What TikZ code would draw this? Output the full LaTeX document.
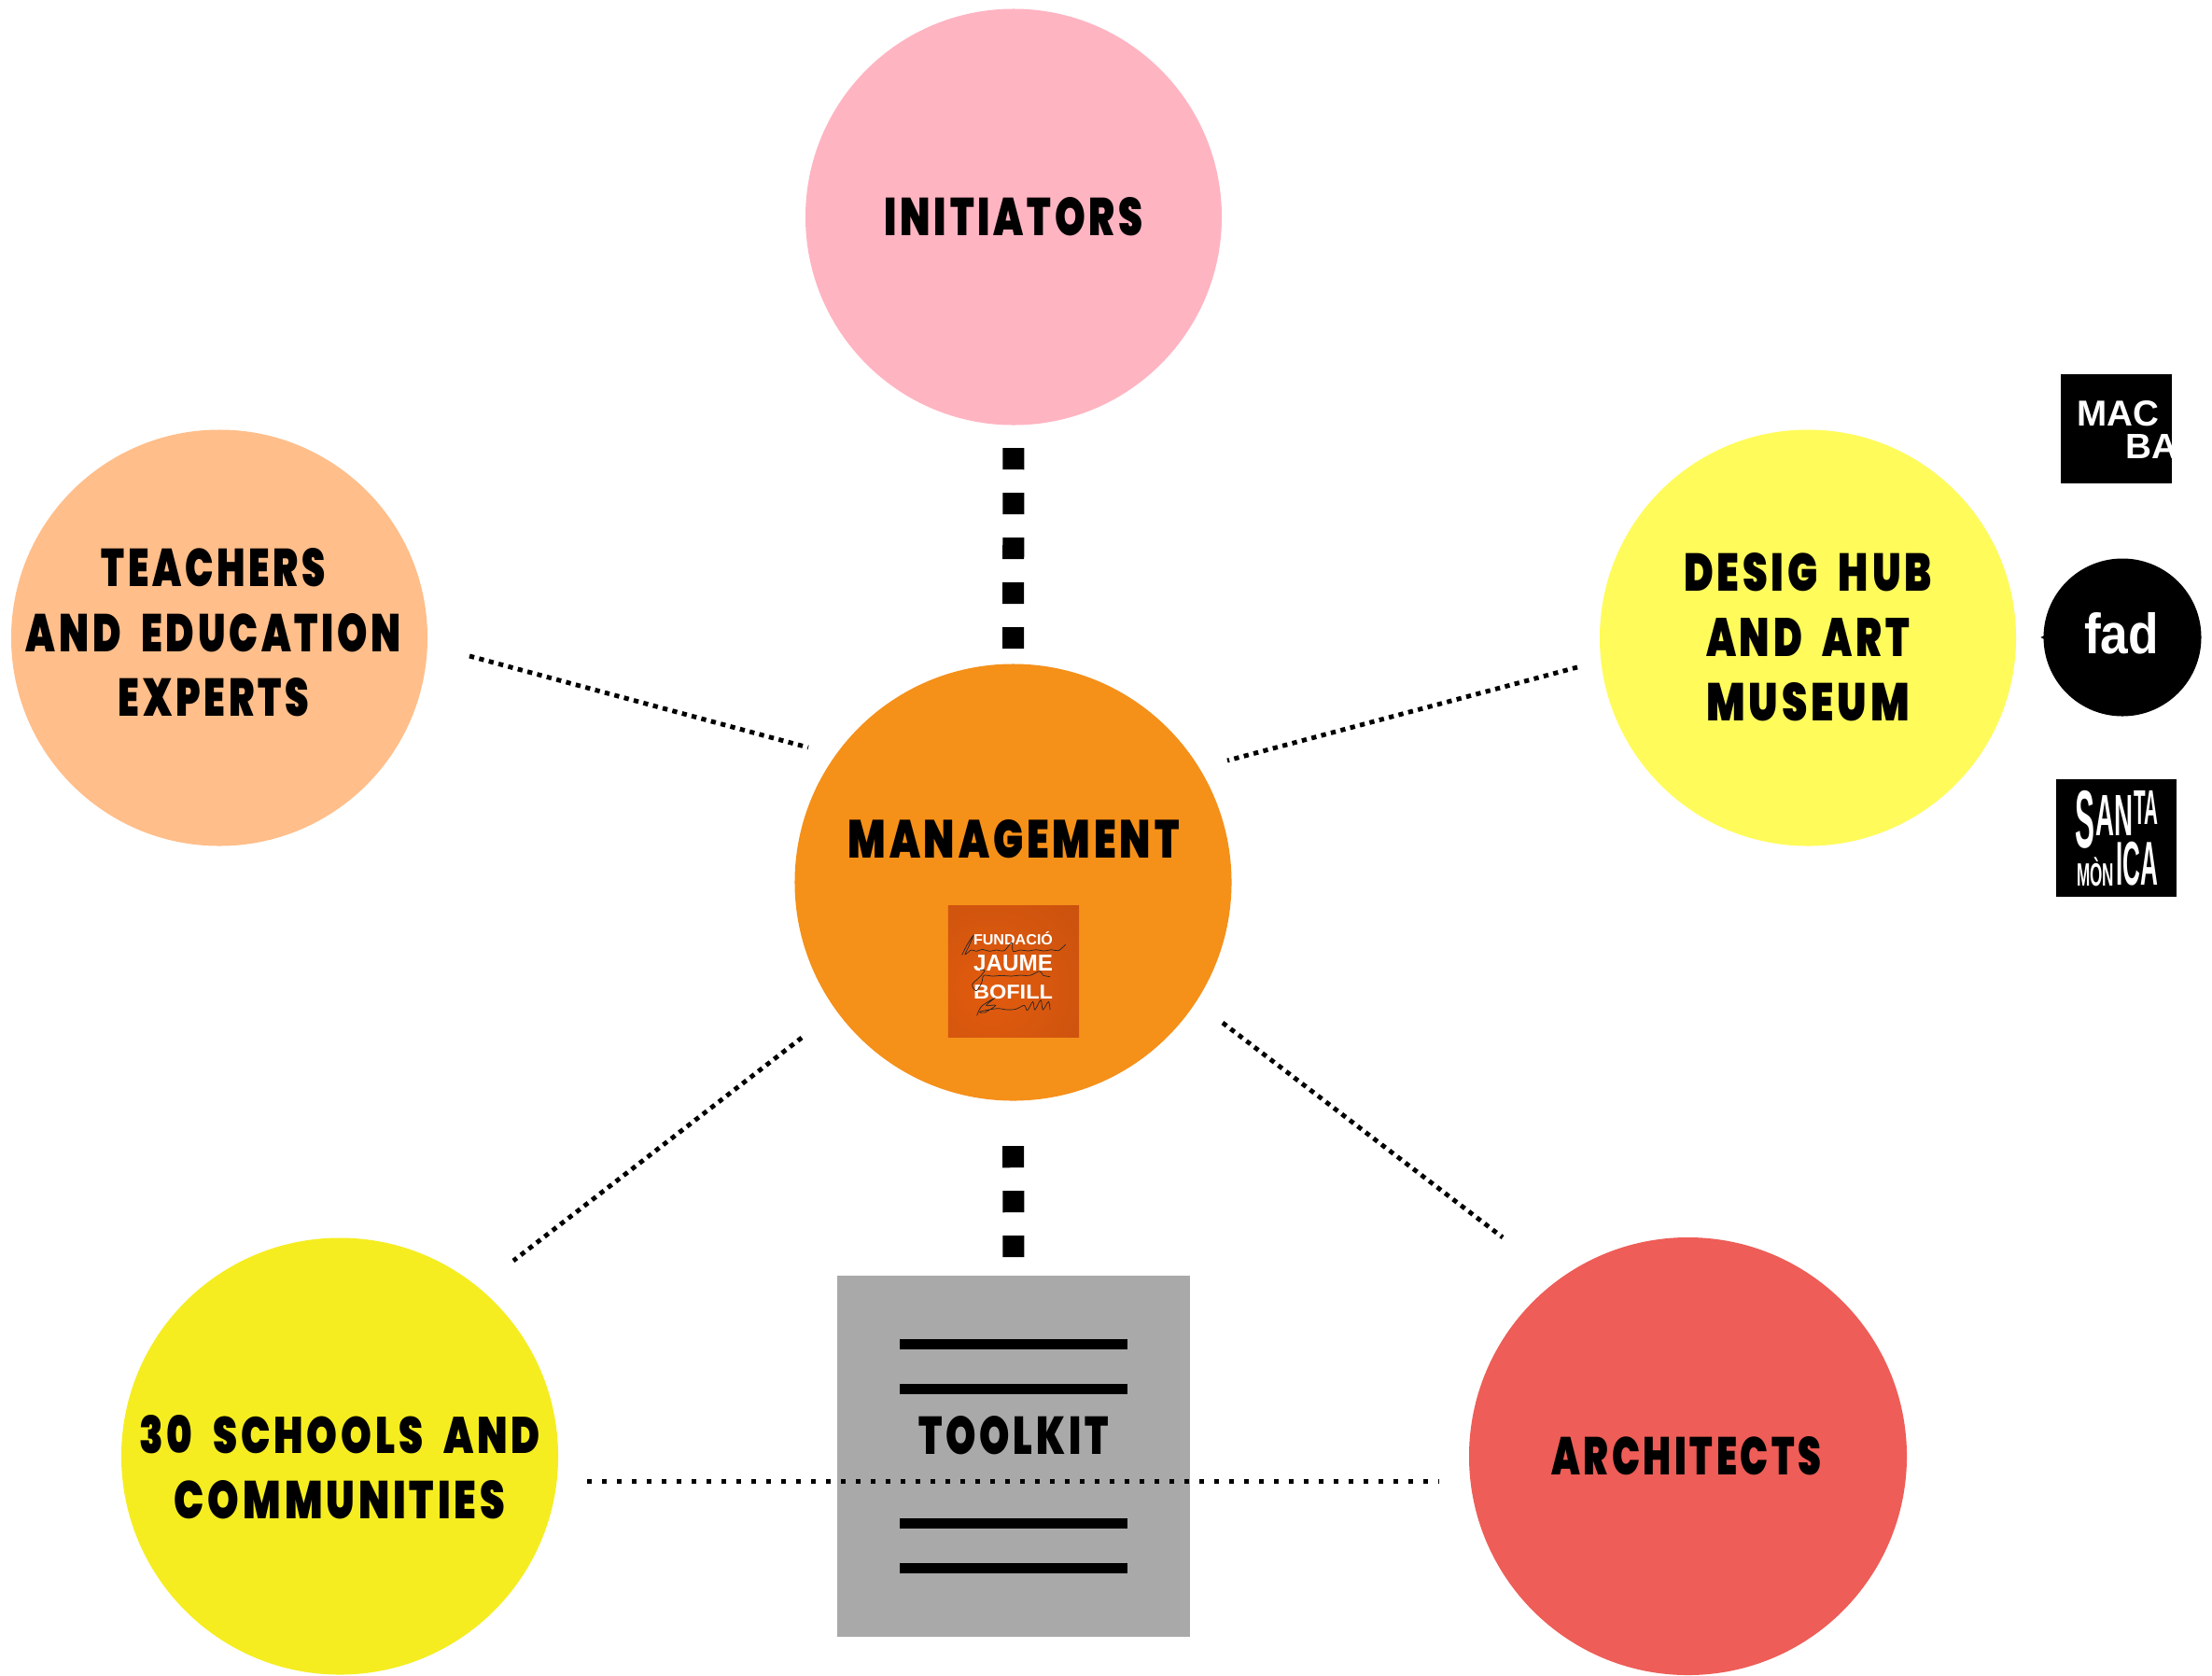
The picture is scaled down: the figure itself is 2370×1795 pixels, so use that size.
\documentclass[tikz,border=0pt]{standalone}
\usepackage{fontspec}
\usepackage{graphicx}
\setmainfont{Liberation Sans}
\newfontfamily\labfont[UprightFont=* Black,FakeStretch=0.66,LetterSpace=6,WordSpace=2]{Poppins}
\newfontfamily\logofont[UprightFont=* Bold]{Liberation Sans}
\usetikzlibrary{shapes.geometric,calc}
\newdimen\pxu \pxu=1.138pt
\newcommand{\capline}[2]{\resizebox{#1\pxu}{41\pxu}{\labfont\fontsize{68}{78.7}\selectfont #2}}
\definecolor{cPink}{HTML}{FFB4C2}
\definecolor{cPeach}{HTML}{FFBE8A}
\definecolor{cLemon}{HTML}{FFFB5A}
\definecolor{cOrange}{HTML}{F59019}
\definecolor{cYellow}{HTML}{F5ED20}
\definecolor{cRed}{HTML}{EE5D57}
\definecolor{cGrey}{HTML}{A8A9A8}
\definecolor{cLogoA}{HTML}{E25B0E}
\definecolor{cLogoB}{HTML}{A8460F}
\tikzset{
  disc/.style={circle,draw=none,inner sep=0pt,minimum size=#1*1.138pt},
  lab/.style={inner sep=0pt,align=center,text=black,font=\fontsize{68}{79.1}\selectfont},
  dotline/.style={draw=black,line width=6pt,dash pattern=on 6pt off 12.2pt},
  diagline/.style={draw=black,line width=5.6pt,dash pattern=on 6pt off 6.2pt},
  heavy/.style={draw=black,line width=26.2pt,dash pattern=on 26.2pt off 28.4pt},
  rule/.style={draw=black,line width=12.5pt},
  logobox/.style={fill=black,draw=none,inner sep=0pt},
  logotxt/.style={inner sep=0pt,text=white,font=\logofont},
  scrib/.style={draw=black!85,line width=0.8pt,smooth,tension=0.55}
}
\begin{document}
\begin{tikzpicture}[x=0.04cm,y=-0.04cm]
\useasboundingbox (0,0) rectangle (2370,1795);
\fill[white] (0,0) rectangle (2370,1795);
% circles
\node[disc=446,fill=cPink] (init) at (1086,232.5) {};
\node[disc=446,fill=cPeach] (teach) at (235,683.5) {};
\node[disc=446,fill=cLemon] (hub) at (1937,683.5) {};
\node[disc=468,fill=cOrange] (mgmt) at (1085.5,945.5) {};
\node[disc=468,fill=cYellow] (schools) at (364,1560.5) {};
\node[disc=469,fill=cRed] (arch) at (1808.5,1560.5) {};
% toolkit
\node[fill=cGrey,inner sep=0pt,minimum width=377*1.138pt,minimum height=387*1.138pt] (tool) at (1086,1560) {};
\coordinate (r1a) at (964,1440); \coordinate (r1b) at (1208,1440);
\coordinate (r2a) at (964,1488); \coordinate (r2b) at (1208,1488);
\coordinate (r3a) at (964,1632); \coordinate (r3b) at (1208,1632);
\coordinate (r4a) at (964,1680); \coordinate (r4b) at (1208,1680);
\draw[rule] (r1a) -- (r1b);
\draw[rule] (r2a) -- (r2b);
\draw[rule] (r3a) -- (r3b);
\draw[rule] (r4a) -- (r4b);
% connectors
\draw[heavy,shorten <=24.5*1.138pt,shorten >=14.5*1.138pt] (init.south) -- (mgmt.north);
\draw[heavy,shorten <=48.5*1.138pt,shorten >=17.5*1.138pt] (mgmt.south) -- (tool.north);
\coordinate (ta) at (503,703); \coordinate (tb) at (866,801);
\coordinate (ha) at (1690,715); \coordinate (hb) at (1315,815);
\coordinate (sa) at (859,1112); \coordinate (sb) at (550,1351);
\coordinate (aa) at (1310,1096); \coordinate (ab) at (1610,1326);
\coordinate (ba) at (629,1587.5); \coordinate (bb) at (1542,1587.5);
\draw[diagline] (ta) -- (tb);
\draw[diagline] (ha) -- (hb);
\draw[diagline] (sa) -- (sb);
\draw[diagline] (aa) -- (ab);
\draw[dotline] (ba) -- (bb);
% labels
\node[lab] (linit) at (1086,232) {\capline{277}{INITIATORS}};
\node[lab] (lteach) at (229,678) {\capline{240}{TEACHERS}\\\capline{402}{AND EDUCATION}\\\capline{204}{EXPERTS}};
\node[lab] (lhub) at (1937,683) {\capline{266}{DESIG HUB}\\\capline{218}{AND ART}\\\capline{218}{MUSEUM}};
\node[lab] (lmgmt) at (1086,899) {\capline{355}{MANAGEMENT}};
\node[lab] (lsch) at (364,1572) {\capline{429}{30 SCHOOLS AND}\\\capline{354}{COMMUNITIES}};
\node[lab] (larch) at (1807,1560) {\capline{289}{ARCHITECTS}};
\node[lab] (ltool) at (1086,1538) {\capline{203}{TOOLKIT}};
% Fundacio logo
\node[minimum size=140*1.138pt,inner sep=0pt,draw=none] (fjb) at (1086,1041) {};
\begin{scope}
\clip (fjb.south west) rectangle (fjb.north east);
\shade[inner color=cLogoA,outer color=cLogoB] (1062,1058) circle (310);
\end{scope}
\node[logotxt] (f1) at (1085.5,1006) {\resizebox{85\pxu}{14\pxu}{FUNDACIÓ}};
\node[logotxt] (f2) at (1085.5,1032.5) {\resizebox{85\pxu}{17\pxu}{JAUME}};
\node[logotxt] (f3) at (1085.5,1063.5) {\resizebox{85\pxu}{15\pxu}{BOFILL}};
\begin{scope}[shift={(1010,990)},x=0.013333cm,y=-0.013333cm]
\draw[scrib] plot coordinates {(62,100) (78,68) (98,38) (84,72) (72,98) (92,84) (108,88) (128,82) (150,88) (172,84) (198,86) (222,60) (226,88) (250,84) (275,87) (300,83) (325,87) (350,83) (372,86) (395,66)};
\draw[scrib] plot coordinates {(120,148) (135,150) (120,170) (95,195) (108,215) (125,190) (132,166) (160,168) (190,166) (220,168) (250,165) (280,166) (312,152) (322,165) (345,170)};
\draw[scrib] plot coordinates {(110,295) (125,265) (165,240) (140,262) (170,262) (135,285) (120,282) (175,272) (205,276) (235,274) (262,262) (272,278) (290,250) (296,276) (315,245) (322,276) (340,250) (345,276)};
\end{scope}
% logos right
\node[logobox,minimum width=119.5*1.138pt,minimum height=117*1.138pt] (macba) at (2267.5,459.5) {};
\begin{scope}
\clip (macba.south west) rectangle (macba.north east);
\node[logotxt] (mac) at (2269,443) {\resizebox{88\pxu}{27\pxu}{MAC}};
\node[logotxt,anchor=west] (ba) at (2277,478) {\resizebox{56\pxu}{26\pxu}{BA}};
\end{scope}
\node[circle,logobox,minimum size=169*1.138pt] (fad) at (2274,683) {};
\fill[black] (fad.west) ++(3,-3) -- ++(-6,3) -- ++(6,3) -- cycle;
\node[logotxt] (fadt) at (2273,679) {\resizebox{80\pxu}{44\pxu}{fad}};
\node[logobox,minimum width=129*1.138pt,minimum height=126*1.138pt] (sm) at (2267.5,898) {};
\node[logotxt,anchor=north west] (s1) at (2223,847) {\resizebox*{21\pxu}{62\pxu}{S}};
\node[logotxt,anchor=north west] (s2) at (2245,852) {\resizebox*{40\pxu}{43\pxu}{AN}};
\node[logotxt,anchor=north west] (s3) at (2286,847) {\resizebox*{26\pxu}{36\pxu}{TA}};
\node[logotxt,anchor=south west] (s4) at (2225,950) {\resizebox*{40\pxu}{31\pxu}{MÒN}};
\node[logotxt,anchor=south west] (s5) at (2267,949) {\resizebox*{45\pxu}{47\pxu}{ICA}};
\end{tikzpicture}
\end{document}
